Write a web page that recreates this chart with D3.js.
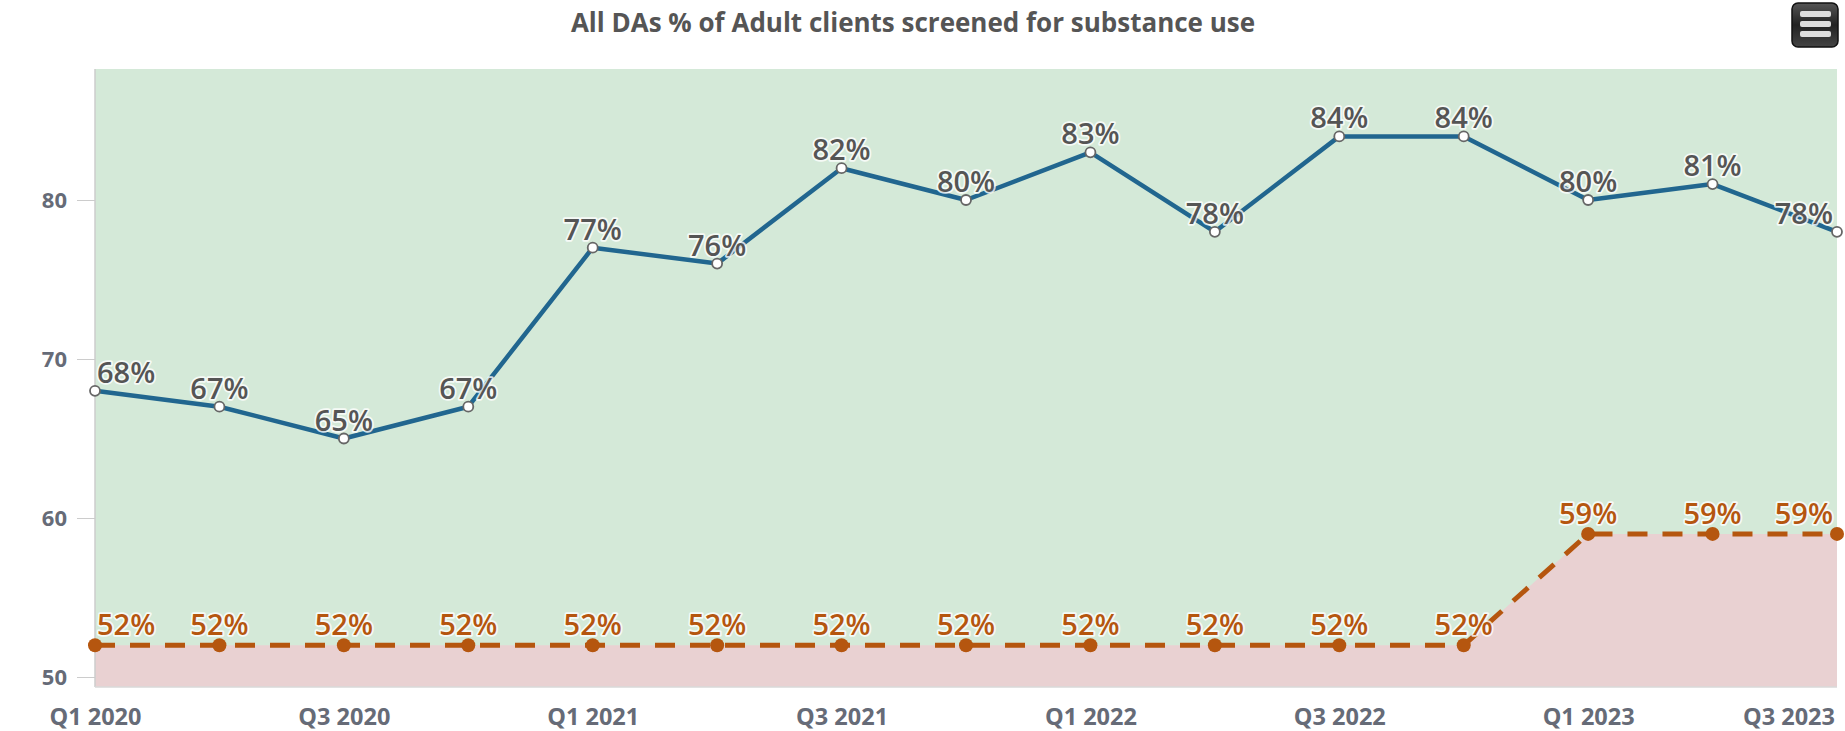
<!DOCTYPE html>
<html>
<head>
<meta charset="utf-8">
<script src="https://cdn.jsdelivr.net/npm/d3@7"></script>
<style>
  html, body { margin: 0; padding: 0; background: #fff; }
  svg { display: block; font-family: "Open Sans", "DejaVu Sans", sans-serif; }
</style>
</head>
<body>
<svg id="chart" width="1845" height="731"></svg>
<script>
// Quarterly screening rates and the target line
const quarters = ["Q1 2020","Q2 2020","Q3 2020","Q4 2020","Q1 2021","Q2 2021","Q3 2021","Q4 2021",
                  "Q1 2022","Q2 2022","Q3 2022","Q4 2022","Q1 2023","Q2 2023","Q3 2023"];
const screened = [68, 67, 65, 67, 77, 76, 82, 80, 83, 78, 84, 84, 80, 81, 78];
const target   = [52, 52, 52, 52, 52, 52, 52, 52, 52, 52, 52, 52, 59, 59, 59];
const yTicks = [50, 60, 70, 80];
const xTickLabels = ["Q1 2020","Q3 2020","Q1 2021","Q3 2021","Q1 2022","Q3 2022","Q1 2023","Q3 2023"];
const titleText = "All DAs % of Adult clients screened for substance use";

const W = 1845, H = 731;
const plot = { left: 95, right: 1837, top: 69, bottom: 687 };
const FONT = '"Open Sans", "DejaVu Sans", sans-serif';

const svg = d3.select("#chart");

const x = d3.scalePoint().domain(quarters).range([plot.left, plot.right]).padding(0);
const y = d3.scaleLinear().domain([50, 80]).range([677, 200]);

// Plot background (above target) and target band
svg.append("rect")
  .attr("x", plot.left).attr("y", plot.top)
  .attr("width", plot.right - plot.left).attr("height", plot.bottom - plot.top)
  .attr("fill", "#d4e9d8");

const area = d3.area()
  .x((d, i) => x(quarters[i]))
  .y0(plot.bottom)
  .y1(d => y(d));
svg.append("path").datum(target).attr("d", area).attr("fill", "#e9d1d2");

// Axes
const yAxis = svg.append("g").attr("transform", `translate(${plot.left},0)`)
  .call(d3.axisLeft(y).tickValues(yTicks).tickSize(18).tickPadding(10).tickFormat(d3.format("d")))
  .attr("font-family", FONT).attr("font-size", 22).attr("font-weight", 700);
yAxis.select(".domain").remove();
yAxis.selectAll(".tick line").attr("stroke", "#cccccc");
yAxis.selectAll(".tick text").attr("fill", "#666b77");

svg.append("line").attr("x1", plot.left).attr("x2", plot.left)
  .attr("y1", plot.top).attr("y2", plot.bottom).attr("stroke", "#cccccc").attr("stroke-width", 1.5);
svg.append("line").attr("x1", plot.left).attr("x2", plot.right)
  .attr("y1", plot.bottom).attr("y2", plot.bottom).attr("stroke", "#d8d8d8").attr("stroke-width", 1.5);

const xAxis = svg.append("g").attr("transform", `translate(0,${plot.bottom})`)
  .call(d3.axisBottom(x).tickValues(xTickLabels).tickSize(0).tickPadding(21))
  .attr("font-family", FONT).attr("font-size", 23.5).attr("font-weight", 700);
xAxis.select(".domain").remove();
xAxis.selectAll(".tick text")
  .attr("fill", "#666b77")
  .each(function () {
    // keep edge labels inside the chart
    const t = d3.select(this);
    const g = d3.select(this.parentNode);
    const tx = +g.attr("transform").match(/translate\(([^,]+)/)[1];
    const w = this.getComputedTextLength();
    if (tx + w / 2 > W - 10) t.attr("x", (W - 10) - w / 2 - tx);
  });

// Lines
const line = d3.line().x((d, i) => x(quarters[i])).y(d => y(d));

svg.append("path").datum(target).attr("d", line)
  .attr("fill", "none").attr("stroke", "#b5560f").attr("stroke-width", 5)
  .attr("stroke-dasharray", "20,15");
svg.append("g").selectAll("circle").data(target).join("circle")
  .attr("cx", (d, i) => x(quarters[i])).attr("cy", d => y(d)).attr("r", 7)
  .attr("fill", "#b5560f");

svg.append("path").datum(screened).attr("d", line)
  .attr("fill", "none").attr("stroke", "#21668f").attr("stroke-width", 4.5)
  .attr("stroke-linejoin", "round");
svg.append("g").selectAll("circle").data(screened).join("circle")
  .attr("cx", (d, i) => x(quarters[i])).attr("cy", d => y(d)).attr("r", 5)
  .attr("fill", "#ffffff").attr("stroke", "#666666").attr("stroke-width", 1.8);

// Data labels, justified to stay within the plot
function labels(data, color, offset) {
  svg.append("g").selectAll("text").data(data).join("text")
    .attr("x", (d, i) => x(quarters[i]))
    .attr("y", d => y(d) - offset)
    .attr("text-anchor", "middle")
    .attr("fill", color)
    .attr("stroke", "rgba(255,255,255,0.8)").attr("stroke-width", 3.5)
    .attr("paint-order", "stroke").attr("stroke-linejoin", "round")
    .style("font-size", "29px").style("font-weight", "600")
    .text(d => d + "%")
    .each(function (d, i) {
      const w = this.getComputedTextLength();
      const cx = x(quarters[i]);
      let nx = cx;
      if (cx - w / 2 < plot.left + 2) nx = plot.left + 2 + w / 2;
      if (cx + w / 2 > plot.right - 4) nx = plot.right - 4 - w / 2;
      d3.select(this).attr("x", nx);
    });
}
labels(screened, "#555555", 8);
labels(target, "#b5560f", 10);

// Title
svg.append("text").attr("x", 913).attr("y", 32).attr("text-anchor", "middle")
  .attr("fill", "#555555").style("font-size", "26px").style("font-weight", "700")
  .text(titleText);

// Context menu button
const defs = svg.append("defs");
const grad = defs.append("linearGradient").attr("id", "btnGrad").attr("x1", 0).attr("x2", 0).attr("y1", 0).attr("y2", 1);
grad.append("stop").attr("offset", "0%").attr("stop-color", "#555");
grad.append("stop").attr("offset", "50%").attr("stop-color", "#222");
grad.append("stop").attr("offset", "100%").attr("stop-color", "#444");
const btn = svg.append("g");
btn.append("rect").attr("x", 1792).attr("y", 3).attr("width", 46).attr("height", 44).attr("rx", 6)
  .attr("fill", "url(#btnGrad)").attr("stroke", "#111").attr("stroke-width", 1.5);
[14, 24, 34].forEach(cy => {
  btn.append("rect").attr("x", 1800).attr("y", cy - 3).attr("width", 31).attr("height", 6).attr("rx", 2)
    .attr("fill", "#dddddd");
});
</script>
</body>
</html>
